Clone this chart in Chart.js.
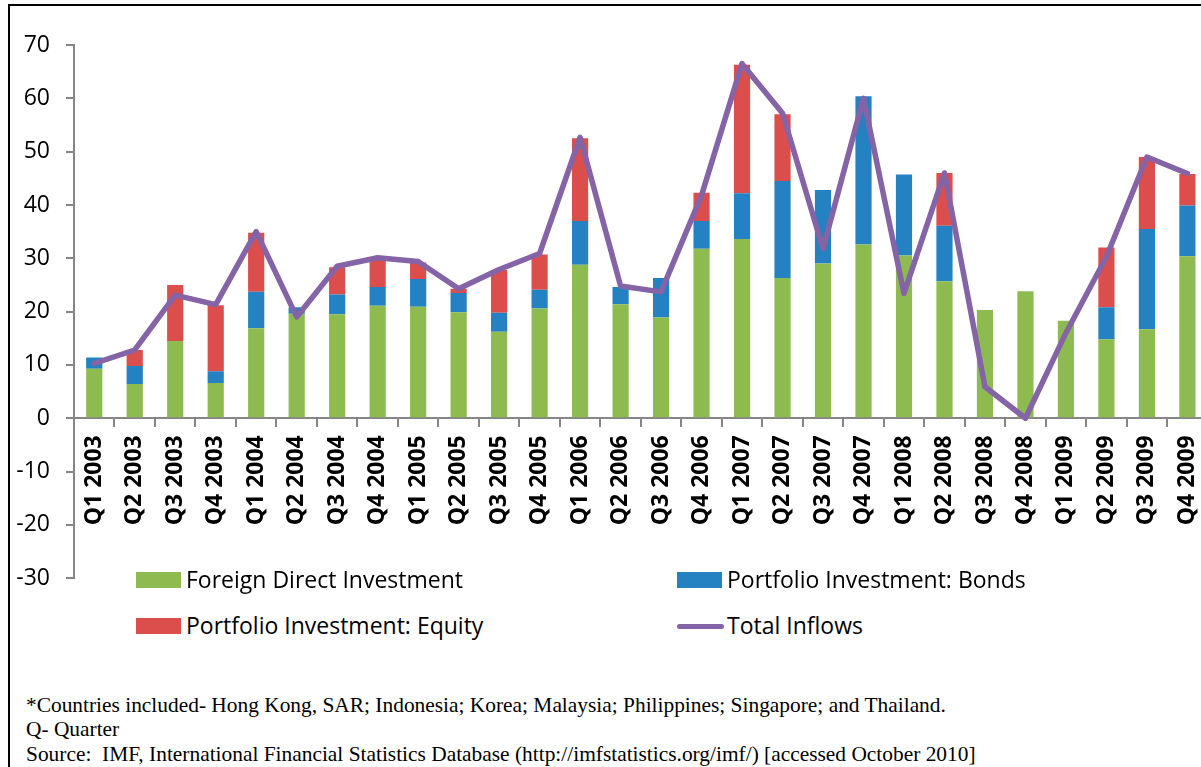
<!DOCTYPE html>
<html>
<head>
<meta charset="utf-8">
<script src="https://cdn.jsdelivr.net/npm/chart.js@4"></script>
<style>
  html, body { margin: 0; padding: 0; background: #fff; overflow: hidden; }
  #wrap { position: relative; width: 1201px; height: 767px; overflow: hidden; }
  #chart { position: absolute; left: 0; top: 0; }
  .frame { position: absolute; background: #000; }
  .legend { position: absolute; font-family: 'Open Sans', 'Noto Sans', sans-serif; font-size: 23px; color: #000; white-space: nowrap; }
  .legend .sw { position: absolute; }
  .notes { position: absolute; left: 26px; top: 693px; font-family: 'Liberation Serif', 'Times New Roman', serif; font-size: 21.4px; line-height: 24.3px; color: #000; white-space: nowrap; }
</style>
</head>
<body>
<div id="wrap">
  <canvas id="chart" width="1224" height="608"></canvas>
  <div class="frame" style="left:8px; top:4px; width:2px; height:763px;"></div>
  <div class="frame" style="left:8px; top:4px; width:1193px; height:2px;"></div>
  <div id="legend"></div>
  <div class="notes">
    <div>*Countries included- Hong Kong, SAR; Indonesia; Korea; Malaysia; Philippines; Singapore; and Thailand.</div>
    <div>Q- Quarter</div>
    <div>Source:&nbsp; IMF, International Financial Statistics Database (http://imfstatistics.org/imf/) [accessed October 2010]</div>
  </div>
</div>
<script>
// quarters on the x axis
const quarters = [
  'Q1 2003', 'Q2 2003', 'Q3 2003', 'Q4 2003',
  'Q1 2004', 'Q2 2004', 'Q3 2004', 'Q4 2004',
  'Q1 2005', 'Q2 2005', 'Q3 2005', 'Q4 2005',
  'Q1 2006', 'Q2 2006', 'Q3 2006', 'Q4 2006',
  'Q1 2007', 'Q2 2007', 'Q3 2007', 'Q4 2007',
  'Q1 2008', 'Q2 2008', 'Q3 2008', 'Q4 2008',
  'Q1 2009', 'Q2 2009', 'Q3 2009', 'Q4 2009'
];

// stacked components (US$ bn)
const fdi = [9.3, 6.4, 14.5, 6.6, 16.9, 19.6, 19.5, 21.1, 20.9, 19.9, 16.2, 20.6, 28.8, 21.4,
  18.9, 31.8, 33.6, 26.3, 29.0, 32.6, 30.5, 25.7, 20.3, 23.8, 18.3, 14.8, 16.7, 30.4];
const bonds = [2.1, 3.4, 0, 2.2, 6.8, 1.2, 3.7, 3.5, 5.2, 3.6, 3.6, 3.5, 8.2, 3.2,
  7.4, 5.2, 8.6, 18.2, 13.8, 27.8, 15.2, 10.4, 0, 0, 0, 6.0, 18.8, 9.5];
const equity = [0, 3.0, 10.5, 12.4, 11.1, 0, 5.1, 5.4, 3.1, 0.8, 8.0, 6.6, 15.5, 0,
  0, 5.3, 24.1, 12.5, 0, 0, 0, 9.9, 0, 0, 0, 11.2, 13.5, 5.9];
const totalInflows = [10.3, 12.8, 23.1, 21.3, 35.0, 19.0, 28.5, 30.1, 29.4, 24.3, 27.9, 30.9, 52.7, 24.8,
  23.7, 41.8, 66.5, 57.2, 31.8, 60.0, 23.4, 46.0, 5.9, 0, 16.0, 30.3, 49.0, 45.9];

const yTicks = [-30, -20, -10, 0, 10, 20, 30, 40, 50, 60, 70];

const colors = {
  fdi: '#8dbb4f',
  bonds: '#2481c2',
  equity: '#dc4e4b',
  total: '#8463a6',
  axis: '#868686'
};

const legendItems = [
  { label: 'Foreign Direct Investment', color: colors.fdi, kind: 'box', x: 136, y: 572 },
  { label: 'Portfolio Investment: Bonds', color: colors.bonds, kind: 'box', x: 677, y: 572 },
  { label: 'Portfolio Investment: Equity', color: colors.equity, kind: 'box', x: 136, y: 618 },
  { label: 'Total Inflows', color: colors.total, kind: 'line', x: 677, y: 618 }
];

const legendEl = document.getElementById('legend');
legendItems.forEach(item => {
  const d = document.createElement('div');
  d.className = 'legend';
  d.style.left = item.x + 'px';
  d.style.top = item.y + 'px';
  const sw = document.createElement('div');
  sw.className = 'sw';
  sw.style.background = item.color;
  sw.style.left = '0px';
  if (item.kind === 'box') {
    sw.style.top = '0px'; sw.style.width = '45px'; sw.style.height = '16px';
  } else {
    sw.style.top = '6px'; sw.style.width = '47px'; sw.style.height = '5px'; sw.style.borderRadius = '3px';
  }
  const t = document.createElement('span');
  t.textContent = item.label;
  t.style.position = 'absolute';
  t.style.left = '50px';
  t.style.top = '-9px';
  d.appendChild(sw);
  d.appendChild(t);
  legendEl.appendChild(d);
});

const ctx = document.getElementById('chart');
new Chart(ctx, {
  type: 'bar',
  data: {
    labels: quarters,
    datasets: [
      { label: 'Foreign Direct Investment', data: fdi, backgroundColor: colors.fdi, stack: 'flows', order: 1 },
      { label: 'Portfolio Investment: Bonds', data: bonds, backgroundColor: colors.bonds, stack: 'flows', order: 1 },
      { label: 'Portfolio Investment: Equity', data: equity, backgroundColor: colors.equity, stack: 'flows', order: 1 },
      {
        type: 'line', label: 'Total Inflows', data: totalInflows, stack: 'total', order: 0,
        borderColor: colors.total, borderWidth: 5.5, pointRadius: 0, tension: 0,
        borderCapStyle: 'round', borderJoinStyle: 'round', fill: false
      }
    ]
  },
  options: {
    responsive: false,
    animation: false,
    events: [],
    barPercentage: 0.4,
    categoryPercentage: 1.0,
    layout: { padding: { top: 45, left: 0, right: 0, bottom: 8 } },
    plugins: { legend: { display: false }, tooltip: { enabled: false } },
    scales: {
      x: {
        stacked: true,
        position: { y: 0 },
        grid: { drawOnChartArea: false, tickLength: 8, color: colors.axis, lineWidth: 2, offset: true },
        border: { color: colors.axis, width: 2 },
        ticks: {
          minRotation: 90, maxRotation: 90, autoSkip: false, padding: 9,
          color: '#000', font: { family: "'Open Sans', 'Noto Sans', sans-serif", size: 23, weight: 'bold' }
        }
      },
      y: {
        stacked: true,
        min: -30, max: 70,
        afterBuildTicks: scale => { scale.ticks = yTicks.map(v => ({ value: v })); },
        afterFit: scale => { scale.width = 74; },
        grid: { drawOnChartArea: false, tickLength: 8, color: colors.axis, lineWidth: 2 },
        border: { color: colors.axis, width: 2 },
        ticks: {
          padding: 16, color: '#000',
          font: { family: "'Open Sans', 'Noto Sans', sans-serif", size: 23 }
        }
      }
    }
  }
});
</script>
</body>
</html>
